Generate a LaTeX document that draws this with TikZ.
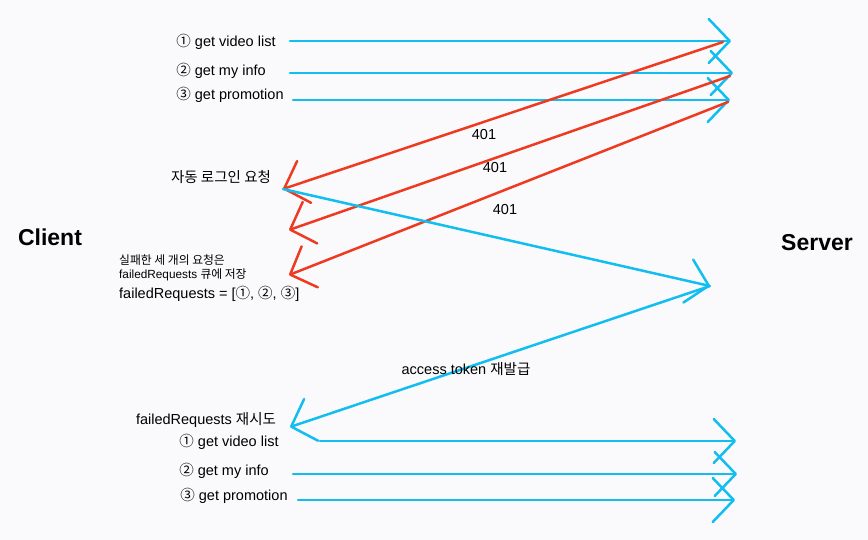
\documentclass[tikz,border=0pt]{standalone}
\usepackage{fontspec}
\setmainfont{Liberation Sans}
\newfontfamily\kr{Noto Sans CJK KR}
\usetikzlibrary{arrows.meta}
\definecolor{cblue}{RGB}{18,190,240}
\definecolor{cred}{RGB}{238,58,32}
\definecolor{bg}{RGB}{250,250,252}
\begin{document}
\begin{tikzpicture}[x=1pt,y=-1pt,
  flow/.style={line width=2.5pt, line cap=round, line join=round,
    -{Straight Barb[length=21pt,width=44pt,line cap=round,line join=round]}},
  req/.style={flow, draw=cblue},
  fail/.style={flow, draw=cred},
  lbl/.style={font=\fontsize{14.5}{17}\selectfont, inner sep=0pt},
  small/.style={font=\fontsize{11.8}{14}\selectfont, inner sep=0pt, anchor=west},
  side/.style={font=\bfseries\fontsize{23}{27}\selectfont, inner sep=0pt}
]
\fill[bg] (0,0) rectangle (868,540);
\useasboundingbox (0,0) rectangle (868,540);

% side labels
\node[side] (client) at (50,237) {Client};
\node[side] (server) at (817,243) {Server};

% top requests
\node[lbl] (q1) at (226,42) {{\kr ①} get video list};
\node[lbl] (q2) at (221,71) {{\kr ②} get my info};
\node[lbl] (q3) at (230,95) {{\kr ③} get promotion};
\coordinate (a1) at (290,41);
\coordinate (a2) at (290,73);
\coordinate (a3) at (293,100);
\coordinate (s1) at (731,41);
\coordinate (s2) at (733,73);
\coordinate (s3) at (730,100);
\draw[req] (a1) -- (s1);
\draw[req] (a2) -- (s2);
\draw[req] (a3) -- (s3);

% 401 responses
\coordinate (e1) at (723,42);
\coordinate (e2) at (730,76);
\coordinate (e3) at (728,102);
\coordinate (c1) at (283,189);
\coordinate (c2) at (289,230);
\coordinate (c3) at (289,275);
\draw[fail] (e1) -- (c1);
\draw[fail] (e2) -- (c2);
\draw[fail] (e3) -- (c3);
\node[lbl] (n1) at (484,135) {401};
\node[lbl] (n2) at (495,168) {401};
\node[lbl] (n3) at (505,210) {401};

% client notes
\node[lbl] (auto) at (221,177) {\kr 자동 로그인 요청};
\node[small] (fail1) at (119,260) {\kr 실패한 세 개의 요청은};
\node[small] (fail2) at (119,275) {failedRequests {\kr 큐에 저장}};
\node[lbl, anchor=west] (queue) at (119,294) {failedRequests = [{\kr ①}, {\kr ②}, {\kr ③}]};

% refresh
\coordinate (sv) at (710,286);
\draw[req] (c1) -- (sv);
\coordinate (rt) at (290,427);
\draw[req] (sv) -- (rt);
\node[lbl] (tok) at (466,369) {access token {\kr 재발급}};
\node[lbl] (retry) at (206,420) {failedRequests {\kr 재시도}};

% retried requests
\node[lbl] (p1) at (229,442) {{\kr ①} get video list};
\node[lbl] (p2) at (224,471) {{\kr ②} get my info};
\node[lbl] (p3) at (234,496) {{\kr ③} get promotion};
\coordinate (b1) at (320,441);
\coordinate (b2) at (293,474);
\coordinate (b3) at (298,500);
\coordinate (t1) at (736,441);
\coordinate (t2) at (737,474);
\coordinate (t3) at (735,500);
\draw[req] (b1) -- (t1);
\draw[req] (b2) -- (t2);
\draw[req] (b3) -- (t3);
\end{tikzpicture}
\end{document}
